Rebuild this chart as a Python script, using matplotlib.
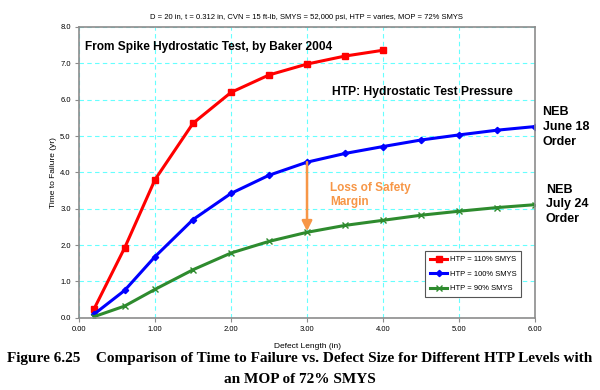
import numpy as np
import matplotlib
matplotlib.use('Agg')
import matplotlib.pyplot as plt

# values
x110 = [0.2, 0.6, 1.0, 1.5, 2.0, 2.5, 3.0, 3.5, 4.0]
y110 = [0.25, 1.92, 3.80, 5.35, 6.20, 6.68, 6.98, 7.20, 7.36]
x100 = [0.2, 0.6, 1.0, 1.5, 2.0, 2.5, 3.0, 3.5, 4.0, 4.5, 5.0, 5.5, 6.0]
y100 = [0.10, 0.75, 1.68, 2.70, 3.42, 3.92, 4.28, 4.52, 4.71, 4.89, 5.03, 5.16, 5.26]
x90 = [0.2, 0.6, 1.0, 1.5, 2.0, 2.5, 3.0, 3.5, 4.0, 4.5, 5.0, 5.5, 6.0]
y90 = [0.03, 0.32, 0.78, 1.32, 1.78, 2.10, 2.35, 2.54, 2.68, 2.82, 2.93, 3.03, 3.11]
labels = ['HTP = 110% SMYS', 'HTP = 100% SMYS', 'HTP = 90% SMYS']
xticks = [0, 1, 2, 3, 4, 5, 6]
yticks = [0, 1, 2, 3, 4, 5, 6, 7, 8]

sans = 'Liberation Sans'
gray = '#8c8c8c'
orange = '#f79646'

fig = plt.figure(figsize=(6, 3.9), dpi=100)
ax = fig.add_axes([0.1317, 0.1854, 0.76, 0.7454])

ax.plot(x110, y110, color='#ff0000', lw=2.2, marker='s', ms=5, label=labels[0])
ax.plot(x100, y100, color='#0000ff', lw=2.2, marker='D', ms=3.2, label=labels[1])
ax.plot(x90, y90, color='#2e8b2e', lw=2.2, marker='x', ms=4, mew=1, label=labels[2])

ax.set_xlim(0, 6)
ax.set_ylim(0, 8)
ax.set_xticks(xticks)
ax.set_yticks(yticks)
ax.set_xticklabels(['%.2f' % v for v in xticks], fontsize=5.5, family=sans)
ax.set_yticklabels(['%.1f' % v for v in yticks], fontsize=5.5, family=sans)
ax.tick_params(length=3, width=0.8, color=gray, pad=3)
ax.grid(True, color='#66ffff', ls=(0, (4, 3)), lw=0.8)
ax.set_axisbelow(True)
for s in ax.spines.values():
    s.set_color(gray)
    s.set_linewidth(1.2)

ax.set_xlabel('Defect Length (in)', fontsize=6, family=sans, labelpad=7)
ax.set_ylabel('Time to Failure (yr)', fontsize=6, family=sans, labelpad=2)

fig.text(0.51, 0.955, 'D = 20 in, t = 0.312 in, CVN = 15 ft-lb, SMYS = 52,000 psi, HTP = varies, MOP = 72% SMYS',
         ha='center', va='center', fontsize=5.5, family=sans)

ax.text(0.08, 7.45, 'From Spike Hydrostatic Test, by Baker 2004', fontsize=8.6,
        fontweight='bold', family=sans, va='center')
ax.text(3.33, 6.2, 'HTP: Hydrostatic Test Pressure', fontsize=8.7,
        fontweight='bold', family=sans, va='center')
ax.text(6.10, 5.25, 'NEB\nJune 18\nOrder', fontsize=9, fontweight='bold',
        family=sans, va='center', linespacing=1.3, clip_on=False)
ax.text(6.14, 3.12, 'NEB\nJuly 24\nOrder', fontsize=9, fontweight='bold',
        family=sans, va='center', linespacing=1.3, clip_on=False)
ax.text(3.3, 3.37, 'Loss of Safety\nMargin', fontsize=8.5, fontweight='bold',
        color=orange, family=sans, va='center', linespacing=1.2)
ax.annotate('', xy=(3.0, y90[6] + 0.03), xytext=(3.0, y100[6]),
            arrowprops=dict(arrowstyle='-|>', color=orange, lw=1.8,
                            mutation_scale=15, shrinkA=0, shrinkB=0))

leg = ax.legend(loc='lower right', bbox_to_anchor=(0.969, 0.071),
                prop={'family': sans, 'size': 5.5}, handlelength=2.3,
                handletextpad=0.3, borderpad=0.6, labelspacing=0.95,
                borderaxespad=0, fancybox=False, edgecolor='#555555', framealpha=1)
leg.get_frame().set_linewidth(0.8)

fig.text(0.5, 0.082, 'Figure 6.25    Comparison of Time to Failure vs. Defect Size for Different HTP Levels with',
         ha='center', va='center', fontsize=11, fontweight='bold', family='Liberation Serif')
fig.text(0.5, 0.028, 'an MOP of 72% SMYS', ha='center', va='center', fontsize=11,
         fontweight='bold', family='Liberation Serif')

fig.savefig('out.png', dpi=100)
